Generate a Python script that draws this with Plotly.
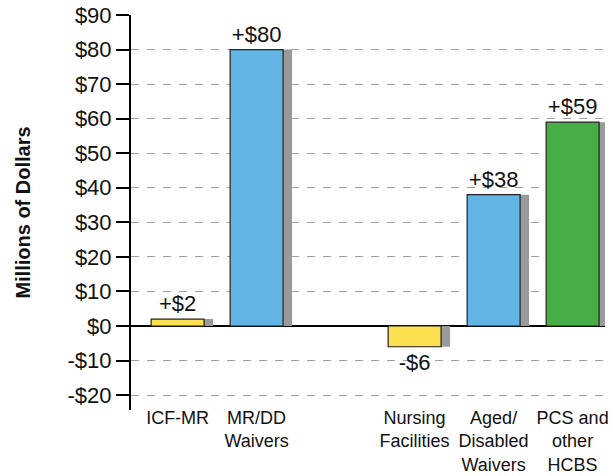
import plotly.graph_objects as go

categories = ["ICF-MR", "MR/DD Waivers", " ", "Nursing Facilities", "Aged/Disabled Waivers", "PCS and other HCBS"]
tick_labels = ["ICF-MR", "MR/DD<br>Waivers", "", "Nursing<br>Facilities", "Aged/<br>Disabled<br>Waivers", "PCS and<br>other<br>HCBS"]
bar_categories = ["ICF-MR", "MR/DD Waivers", "Nursing Facilities", "Aged/Disabled Waivers", "PCS and other HCBS"]
values = [2, 80, -6, 38, 59]
bar_colors = ["#FDE050", "#62B4E4", "#FDE050", "#62B4E4", "#47AD45"]
y_ticks = [-20, -10, 0, 10, 20, 30, 40, 50, 60, 70, 80, 90]
y_tick_labels = ["-$20", "-$10", "$0", "$10", "$20", "$30", "$40", "$50", "$60", "$70", "$80", "$90"]

labels = [("+$%d" % v) if v >= 0 else ("-$%d" % abs(v)) for v in values]

FONT = "Liberation Sans, Arial, Helvetica, sans-serif"
W = 0.67
SH = 0.114

fig = go.Figure()
fig.add_trace(go.Bar(
    x=bar_categories, y=values, width=[W] * len(values), offset=-W / 2 + SH,
    marker=dict(color="#9a9a9a", line=dict(width=0)), hoverinfo="skip", showlegend=False,
))
fig.add_trace(go.Bar(
    x=bar_categories, y=values, width=[W] * len(values), offset=-W / 2,
    marker=dict(color=bar_colors, line=dict(color="#222222", width=1.2)),
    text=labels, textposition="outside", constraintext="none", cliponaxis=False,
    textfont=dict(family=FONT, size=22, color="#111111"), showlegend=False,
))

fig.update_layout(
    width=613, height=476,
    margin=dict(l=131, r=8, t=15, b=66, autoexpand=False),
    plot_bgcolor="white", paper_bgcolor="white",
    barmode="overlay",
    font=dict(family=FONT, size=21, color="#111111"),
    xaxis=dict(
        type="category", categoryorder="array", categoryarray=categories,
        tickvals=categories, ticktext=tick_labels, automargin=False,
        range=[-0.59, 5.41], autorange=False, showgrid=False, showline=False, ticks="",
        ticklabelstandoff=-5,
        tickfont=dict(family=FONT, size=18, color="#111111"),
    ),
    yaxis=dict(
        range=[-24.3, 90], autorange=False, automargin=False,
        tickvals=y_ticks, ticktext=y_tick_labels,
        showline=True, linecolor="black", linewidth=2,
        ticks="outside", ticklen=13, tickwidth=2, tickcolor="black",
        ticklabelstandoff=0,
        showgrid=True, gridcolor="#a0a0a0", gridwidth=1.2, griddash="8px,8px",
        zeroline=True, zerolinecolor="black", zerolinewidth=2,
        tickfont=dict(family=FONT, size=22, color="#111111"),
        title=dict(text="<b>Millions of Dollars</b>", font=dict(family=FONT, size=20, color="#111111"), standoff=32),
    ),
)

fig.write_html("out.html", config={"displayModeBar": False},
               post_script="document.body.style.margin='0px';")
